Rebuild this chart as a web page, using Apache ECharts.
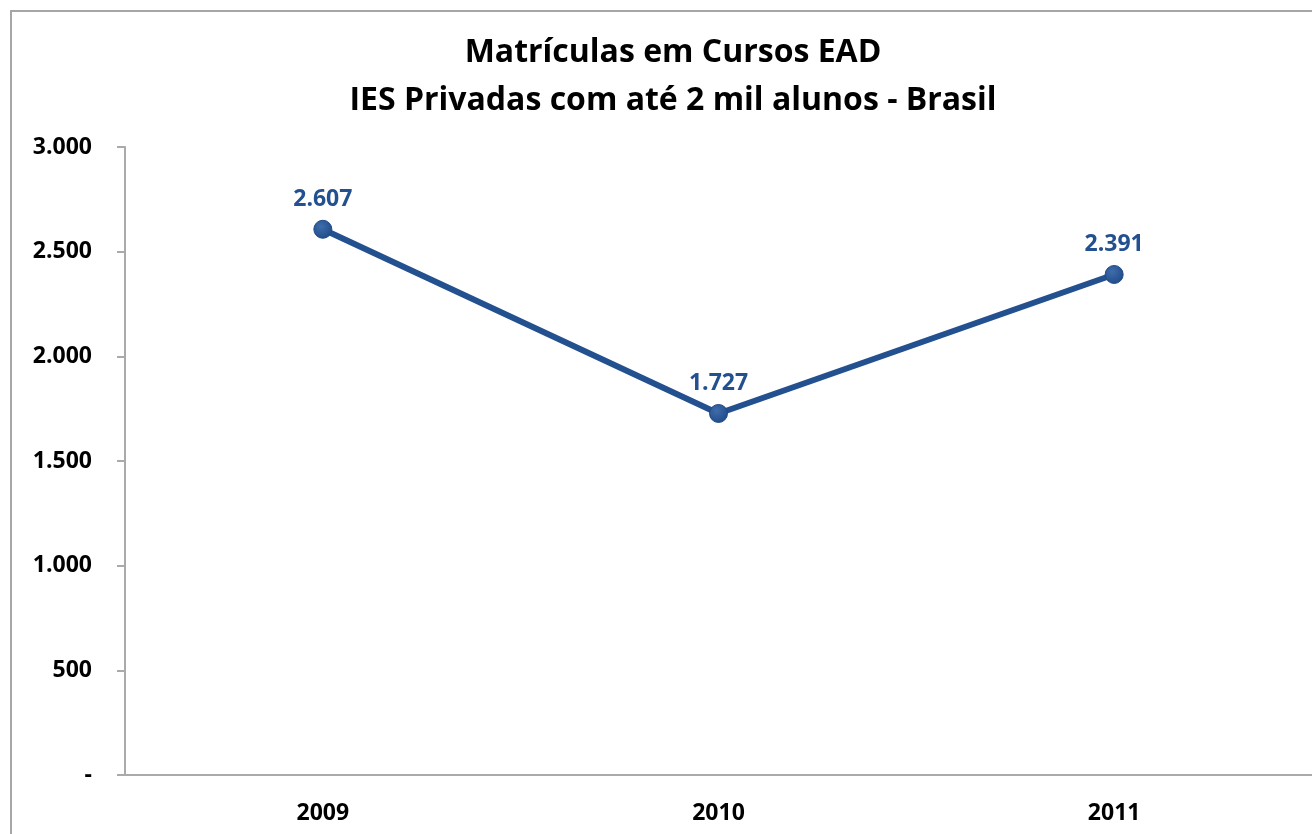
<!DOCTYPE html>
<html>
	<head>
		<meta charset="utf-8">
		<title></title>
		<script type="text/javascript" src="https://cdn.jsdelivr.net/npm/echarts@6/dist/echarts.min.js"></script>
		<style>
			html, body { margin: 0; padding: 0; background: #fff; }
		</style>
	</head>
	<body>
		<div id="chart" style="width:1312px;height:834px;"></div>
		<script type="text/javascript">
			// dados
			var anos = ['2009', '2010', '2011'];
			var matriculas = [2607, 1727, 2391];

			function fmt(v) {
				if (v === 0) return '-';
				return String(v).replace(/\B(?=(\d{3})+(?!\d))/g, '.');
			}

			var myChart = echarts.init(document.getElementById('chart'));
			var font = '"Open Sans", "Noto Sans", sans-serif';
			var option = {
				backgroundColor: '#fff',
				animation: false,
				graphic: [{
					type: 'rect',
					shape: { x: 11, y: 11, width: 1400, height: 900 },
					style: { fill: 'none', stroke: '#a6a6a6', lineWidth: 2 },
					silent: true
				}],
				title: {
					text: 'Matrículas em Cursos EAD\nIES Privadas com até 2 mil alunos - Brasil',
					left: 668,
					textAlign: 'center',
					top: 24,
					textStyle: {
						fontFamily: font,
						fontSize: 32,
						fontWeight: 'bold',
						color: '#000',
						lineHeight: 48
					}
				},
				grid: {
					left: 125,
					right: 0,
					top: 147,
					bottom: 59
				},
				xAxis: {
					type: 'category',
					data: anos,
					boundaryGap: true,
					axisLine: { lineStyle: { color: '#aaaaaa', width: 2 } },
					axisTick: { length: 10, lineStyle: { color: '#aaaaaa', width: 2 } },
					axisLabel: {
						margin: 27,
						fontFamily: font,
						fontSize: 23,
						fontWeight: 'bold',
						color: '#000'
					}
				},
				yAxis: {
					type: 'value',
					min: 0,
					max: 3000,
					interval: 500,
					splitLine: { show: false },
					axisLine: { show: true, lineStyle: { color: '#aaaaaa', width: 2 } },
					axisTick: { show: true, length: 8, lineStyle: { color: '#aaaaaa', width: 2 } },
					axisLabel: {
						margin: 33,
						fontFamily: font,
						fontSize: 23,
						fontWeight: 'bold',
						color: '#000',
						formatter: fmt
					}
				},
				series: [{
					type: 'line',
					data: matriculas,
					symbol: 'circle',
					symbolSize: 18,
					lineStyle: { color: '#23508f', width: 6 },
					itemStyle: {
						color: new echarts.graphic.RadialGradient(0.4, 0.35, 0.7, [
							{ offset: 0, color: '#3f6cab' },
							{ offset: 1, color: '#1f4a88' }
						]),
						borderColor: '#1f4a88',
						borderWidth: 1
					},
					label: {
						show: true,
						position: 'top',
						distance: 9,
						fontFamily: font,
						fontSize: 23,
						fontWeight: 'bold',
						color: '#23508f',
						formatter: function(p) { return fmt(p.value); }
					}
				}]
			};
			myChart.setOption(option);
		</script>
	</body>
</html>
